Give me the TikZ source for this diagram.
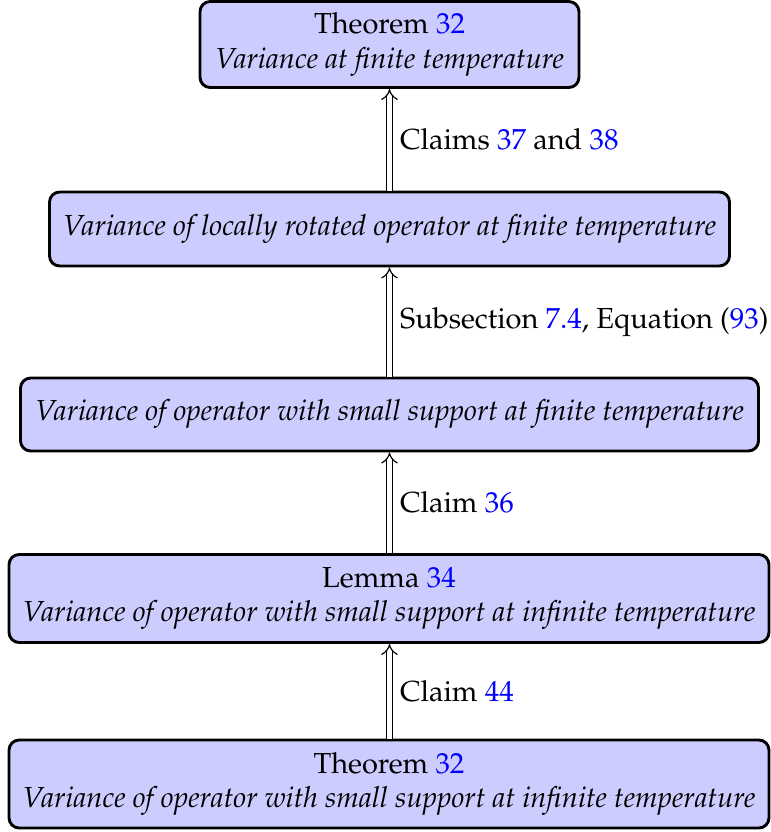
\documentclass[tikz,border=0pt]{standalone}
\usepackage[T1]{fontenc}
\usepackage{mathpazo}
\usetikzlibrary{arrows.meta}
\def\u{0.345pt}
\tikzset{
  box/.style={draw=black, fill=blue!20, line width=1pt, rounded corners=3.5pt,
    align=center, inner sep=0pt, font=\normalsize},
  dbl/.style={double, double distance=1.6pt, line width=0.4pt, -{Implies}},
  lbl/.style={anchor=west, inner sep=0pt, xshift={10*\u}},
}
\newcommand{\bn}[1]{{\color{blue}#1}}
\begin{document}
\begin{tikzpicture}[x=\u, y=-\u]
\useasboundingbox (0,0) rectangle (770,832);
\node[box, minimum width={379*\u}, minimum height={86*\u}] (t1) at (389.5,44.5)
  {Theorem \bn{32}\\ \textit{Variance at finite temperature}};
\node[box, minimum width={680*\u}, minimum height={74*\u}] (t2) at (389.5,229)
  {\textit{Variance of locally rotated operator at finite temperature}};
\node[box, minimum width={738*\u}, minimum height={73*\u}] (t3) at (389.5,414.5)
  {\textit{Variance of operator with small support at finite temperature}};
\node[box, minimum width={760*\u}, minimum height={88*\u}] (t4) at (389,598.5)
  {Lemma \bn{34}\\ \textit{Variance of operator with small support at infinite temperature}};
\node[box, minimum width={760*\u}, minimum height={88*\u}] (t5) at (389,784)
  {Theorem \bn{32}\\ \textit{Variance of operator with small support at infinite temperature}};
\draw[dbl] (t2.north -| t1.south) -- (t1.south);
\draw[dbl] (t3.north -| t1.south) -- (t2.south -| t1.south);
\draw[dbl] (t4.north -| t1.south) -- (t3.south -| t1.south);
\draw[dbl] (t5.north -| t1.south) -- (t4.south -| t1.south);
\path (t1.south) -- node[lbl] (l1) {Claims \bn{37} and \bn{38}} (t2.north -| t1.south);
\path (t2.south -| t1.south) -- node[lbl] (l2) {Subsection \bn{7.4}, Equation (\bn{93})} (t3.north -| t1.south);
\path (t3.south -| t1.south) -- node[lbl] (l3) {Claim \bn{36}} (t4.north -| t1.south);
\path (t4.south -| t1.south) -- node[lbl] (l4) {Claim \bn{44}} (t5.north -| t1.south);
\end{tikzpicture}
\end{document}
